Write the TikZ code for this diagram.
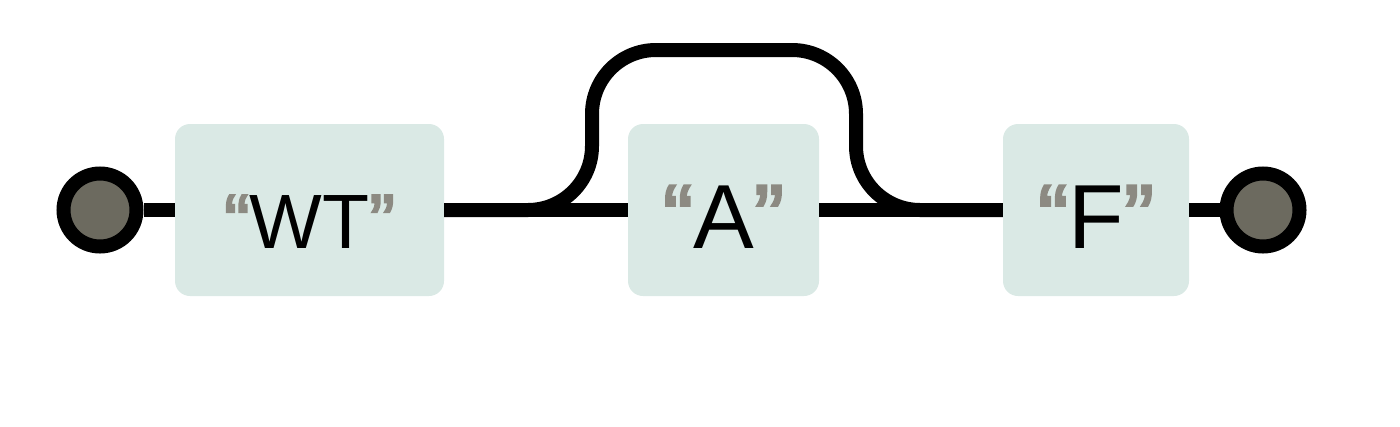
\documentclass[tikz,border=0pt]{standalone}
\usepackage{fontspec}
\setmainfont{Liberation Sans}
\newfontfamily\quotefont[FakeBold=2.5]{Liberation Sans}
\definecolor{boxfill}{RGB}{218,233,229}
\definecolor{termfill}{RGB}{108,106,95}
\definecolor{quotegray}{RGB}{140,138,130}
\newcommand{\qq}[1]{{\color{quotegray}\quotefont“}#1{\color{quotegray}\quotefont”}}
\begin{document}
\begin{tikzpicture}[x=1pt,y=-1pt,
  box/.style={fill=boxfill, rounded corners=15pt, minimum height=172pt, inner sep=0pt, text height=76pt, text depth=0pt},
  wire/.style={line width=14pt},
  term/.style={circle, draw=black, line width=14pt, fill=termfill, minimum size=73pt, inner sep=0pt}]
\useasboundingbox (0,0) rectangle (1400,426);
\node[term] (s) at (100,210) {};
\node[box, minimum width=269pt, font=\fontsize{77}{90}\selectfont] (wt) at (309.5,210) {\qq{WT}};
\node[box, minimum width=191pt, font=\fontsize{91}{105}\selectfont] (a) at (723.5,210) {\qq{A}};
\node[box, minimum width=186pt, font=\fontsize{91}{105}\selectfont] (f) at (1096,210) {\qq{F}};
\node[term] (e) at (1263,210) {};
\draw[wire] (s) -- (wt);
\draw[wire] (wt) -- (a);
\draw[wire] (a) -- (f);
\draw[wire] (f) -- (e);
\draw[wire, rounded corners=64pt] (wt.east) -- (592,210) -- (592,50) -- (856,50) -- (856,210) -- (f.west);
\end{tikzpicture}
\end{document}
